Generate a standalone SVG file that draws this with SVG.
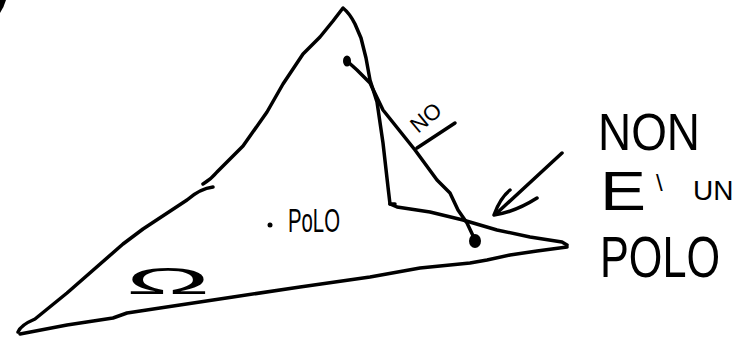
<svg xmlns="http://www.w3.org/2000/svg" width="739" height="342" viewBox="0 0 739 342">
<style>
.s{fill:none;stroke:#000;stroke-width:3.5;stroke-linecap:round;stroke-linejoin:round}
.t{font-family:"Liberation Sans",Arial,sans-serif;fill:#000}
</style>
<rect width="739" height="342" fill="#fff"/>
<path d="M0,0 L6,0 Q4,7 0,13 Z" fill="#000"/>
<g id="region">
<path class="s" d="M18,332 C20,326 28,322 35,319 L67,293 L123,244 L143,229 L187,200 C195,193 204,188 213,187"/>
<path class="s" d="M203,184 C208,181 213,177 217,172 L243,146 L267,112 L283,84 L303,54 L320,37 L333,21 L343,8 C348,12 352,18 355,24 L361,38 L366,58 L370,80 L377,102 L383,143 L388,187 L390,204 L395,204"/>
<path class="s" d="M390,204 L397,207 L430,212 L463,220 L497,230 L530,237 L562,242 L567,245"/>
<path class="s" d="M567,247 L537,251 L510,255 L487,260 L470,263 L420,268 L370,277 L300,287 L233,297 L160,308 L127,313 L113,318 L67,325 L20,334"/>
<text class="t" x="126" y="294" font-size="37" textLength="84" lengthAdjust="spacingAndGlyphs">Ω</text>
</g>
<g id="inner-pole">
<circle cx="270" cy="225" r="2.5" fill="#000"/>
<text class="t" x="288" y="232" font-size="34" textLength="52" lengthAdjust="spacingAndGlyphs">PoLO</text>
</g>
<g id="outer-pole">
<ellipse cx="347" cy="61" rx="4" ry="5.5" fill="#000"/>
<ellipse cx="475" cy="241" rx="6" ry="7" fill="#000"/>
</g>
<g id="connectors">
<path class="s" d="M347,61 L357,70 L370,83 L383,110 L415,150 L437,180 L450,193 L458,210 L467,223 L475,240"/>
<path class="s" d="M417,148 L455,123"/>
<path class="s" d="M562,153 L498,212"/>
<path class="s" d="M510,190 Q500,198 494,215 Q515,212 537,198"/>
</g>
<g id="labels">
<text class="t" x="0" y="0" font-size="22" transform="translate(418,134) rotate(-40)">NO</text>
<text class="t" x="598" y="150" font-size="52" textLength="102" lengthAdjust="spacingAndGlyphs">NON</text>
<text class="t" x="600" y="210" font-size="56" textLength="46" lengthAdjust="spacingAndGlyphs">E</text>
<text class="t" x="656" y="191" font-size="24">\</text>
<text class="t" x="693" y="200" font-size="28">UN</text>
<text class="t" x="0" y="0" font-size="44" textLength="120" lengthAdjust="spacingAndGlyphs" transform="translate(600,277) scale(1,1.3)">POLO</text>
</g>
</svg>
